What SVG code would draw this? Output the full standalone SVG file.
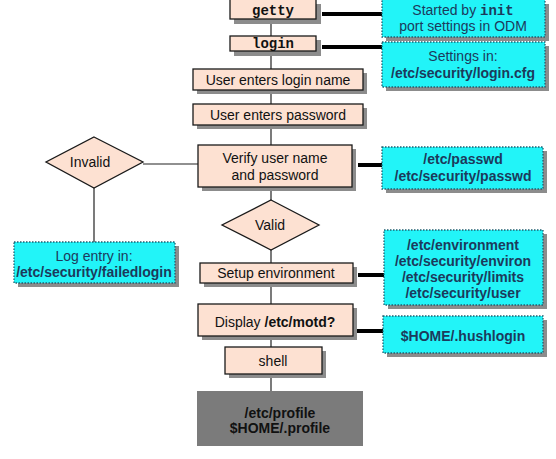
<svg xmlns="http://www.w3.org/2000/svg" width="556" height="459" viewBox="0 0 556 459">
<style>
.sh{fill:#8c8c8c}
.pk{fill:#fde1d2;stroke:#1a1a1a;stroke-width:1.3}
.cy{fill:#22f4f8;stroke:#1f5f6f;stroke-width:1.3;stroke-dasharray:1.5 1.5}
.gr{fill:#7b7b7b}
.t{font-family:"Liberation Sans",Arial,sans-serif;font-size:14px;fill:#111;text-anchor:middle}
.c{font-family:"Liberation Sans",Arial,sans-serif;font-size:14px;fill:#1c3a5c;text-anchor:middle}
.b{font-weight:bold}
.m{font-family:"Liberation Mono","Courier New",monospace;font-weight:bold;font-size:14px;fill:#111;text-anchor:middle}
.ln{stroke:#222;stroke-width:1.2;fill:none}
.th{stroke:#000;stroke-width:4;fill:none}
</style>
<rect width="556" height="459" fill="#fff"/>
<g id="connectors">
<line class="ln" x1="271" y1="18" x2="271" y2="391"/>
<line class="ln" x1="143" y1="164" x2="198" y2="164"/>
<line class="ln" x1="94" y1="188" x2="94" y2="242"/>
<line class="th" x1="322" y1="14" x2="382" y2="14"/>
<line class="th" x1="322" y1="47" x2="382" y2="47"/>
<line class="th" x1="358" y1="165" x2="382" y2="165"/>
<line class="th" x1="358" y1="275" x2="384" y2="275"/>
<line class="th" x1="357" y1="331" x2="383" y2="331"/>
</g>
<g id="getty"><rect class="sh" x="234" y="4" width="87" height="20"/><rect class="pk" x="230" y="-1" width="86" height="20"/><text class="m" x="273" y="15">getty</text></g>
<g id="init-note"><rect class="sh" x="386" y="4" width="163" height="37"/><rect class="cy" x="382" y="-1" width="163" height="38"/><text class="c" x="463" y="15">Started by <tspan font-family="'Liberation Mono','Courier New',monospace" font-weight="bold">init</tspan></text><text class="c" x="463" y="31">port settings in ODM</text></g>
<g id="login"><rect class="sh" x="234" y="40" width="87" height="16"/><rect class="pk" x="230" y="36" width="86" height="15"/><text class="m" x="273" y="48">login</text></g>
<g id="login-note"><rect class="sh" x="386" y="46" width="163" height="45"/><rect class="cy" x="382" y="42" width="163" height="45"/><text class="c" x="463" y="61">Settings in:</text><text class="c b" x="463" y="78">/etc/security/login.cfg</text></g>
<g id="enter-name"><rect class="sh" x="197" y="73" width="170" height="21"/><rect class="pk" x="193" y="69" width="170" height="21"/><text class="t" x="278" y="85">User enters login name</text></g>
<g id="enter-pass"><rect class="sh" x="197" y="108" width="170" height="21"/><rect class="pk" x="193" y="104" width="170" height="21"/><text class="t" x="278" y="120">User enters password</text></g>
<g id="verify"><rect class="sh" x="202" y="149" width="154" height="42"/><rect class="pk" x="198" y="145" width="154" height="42"/><text class="t" x="275" y="163">Verify user name</text><text class="t" x="275" y="180">and password</text></g>
<g id="passwd-note"><rect class="sh" x="386" y="151" width="161" height="42"/><rect class="cy" x="382" y="147" width="161" height="42"/><text class="c b" x="463" y="164">/etc/passwd</text><text class="c b" x="463" y="181">/etc/security/passwd</text></g>
<g id="invalid"><polygon class="pk" points="94,137 143,162 94,188 46,162"/><text class="t" x="90" y="167">Invalid</text></g>
<g id="failed-note"><rect class="sh" x="18" y="246" width="161" height="41"/><rect class="cy" x="14" y="242" width="161" height="41"/><text class="c" x="94" y="261">Log entry in:</text><text class="c b" x="94" y="277">/etc/security/failedlogin</text></g>
<g id="valid"><polygon class="pk" points="271,200 319,225 271,250 222,225"/><text class="t" x="270" y="230">Valid</text></g>
<g id="setup"><rect class="sh" x="204" y="267" width="153" height="20"/><rect class="pk" x="200" y="263" width="153" height="20"/><text class="t" x="276" y="278">Setup environment</text></g>
<g id="env-note"><rect class="sh" x="388" y="234" width="159" height="75"/><rect class="cy" x="384" y="230" width="159" height="75"/><text class="c b" x="463" y="250">/etc/environment</text><text class="c b" x="463" y="266">/etc/security/environ</text><text class="c b" x="463" y="282">/etc/security/limits</text><text class="c b" x="463" y="298">/etc/security/user</text></g>
<g id="display"><rect class="sh" x="202" y="308" width="155" height="32"/><rect class="pk" x="198" y="304" width="155" height="32"/><text class="t" x="275" y="327">Display <tspan class="b">/etc/motd?</tspan></text></g>
<g id="hush-note"><rect class="sh" x="387" y="320" width="160" height="37"/><rect class="cy" x="383" y="316" width="160" height="37"/><text class="c b" x="463" y="341">$HOME/.hushlogin</text></g>
<g id="shell"><rect class="sh" x="229" y="351" width="97" height="27"/><rect class="pk" x="225" y="347" width="97" height="27"/><text class="t" x="273" y="366">shell</text></g>
<g id="profile"><rect class="gr" x="197" y="391" width="166" height="55"/><text class="t b" x="280" y="418">/etc/profile</text><text class="t b" x="280" y="433">$HOME/.profile</text></g>
</svg>
